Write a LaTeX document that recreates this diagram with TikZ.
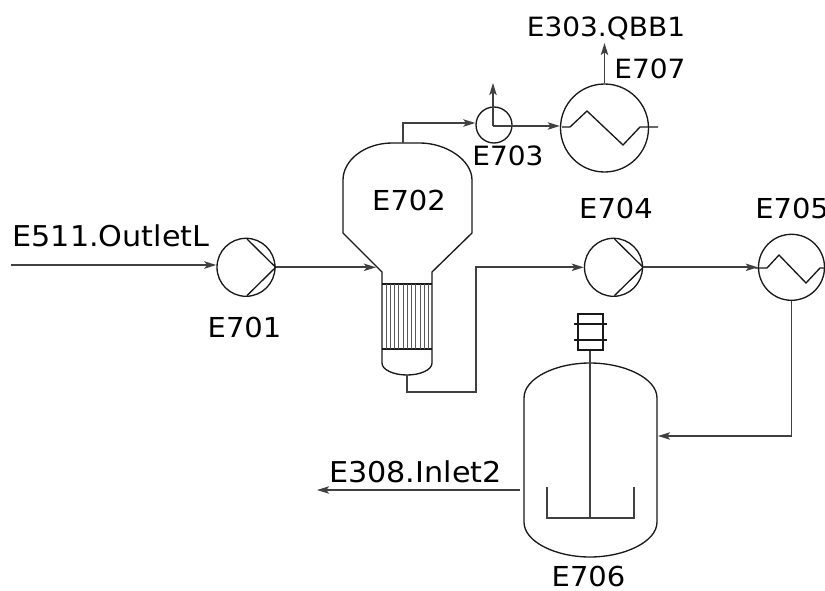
\documentclass[tikz,border=0pt]{standalone}
\usepackage{fontspec}
\setmainfont{DejaVu Sans}
\newfontfamily\widefont[FakeStretch=1.055]{DejaVu Sans}
\usetikzlibrary{arrows.meta}
\tikzset{
  x=0.75pt,y=-0.75pt,
  unit/.style={line width=1pt,draw=black!90,line join=miter},
  pipe/.style={line width=1.4pt,draw=black!75,line join=miter},
  flow/.style={pipe,-{Stealth[length=9pt,width=5.5pt,inset=2pt]}},
  ball/.style={circle,draw=black!90,line width=1pt,inner sep=0pt,fill=none},
  lab/.style={inner sep=0pt,font=\widefont\fontsize{20.6pt}{24pt}\selectfont},
  longlab/.style={inner sep=0pt,font=\widefont\fontsize{21.5pt}{24pt}\selectfont},
  smalllab/.style={inner sep=0pt,font=\widefont\fontsize{19.9pt}{22pt}\selectfont},
  tube/.style={line width=0.6pt,draw=black!65}
}
\begin{document}
\begin{tikzpicture}
\useasboundingbox (0,0) rectangle (825,590);
% ports
\coordinate (inL) at (11,265);
\coordinate (r2in) at (376,267.3);
\coordinate (r2top) at (403,143);
\coordinate (r2bot) at (407,375);
\coordinate (bend1) at (407,392);
\coordinate (bend2) at (476,392);
\coordinate (bend3) at (476,267.3);
\coordinate (bend4) at (403,123);
\coordinate (sepVap) at (493,83);
\coordinate (sepC) at (493,126);
\coordinate (outQ) at (604.5,43);
\coordinate (tankin) at (658,436);
\coordinate (bend5) at (791.5,436);
\coordinate (tankout) at (520,490);
\coordinate (outI) at (317,490);
% pumps and round units
\node[ball,minimum size=58pt*0.75] (p1) at (246,267.3) {};
\node[ball,minimum size=58pt*0.75] (p4) at (613.5,267.3) {};
\node[ball,minimum size=36pt*0.75] (s3) at (494,125) {};
\node[ball,minimum size=88pt*0.75] (h7) at (604.5,128) {};
\node[ball,minimum size=66pt*0.75] (h5) at (791.5,267.3) {};
% pump triangles
\draw[unit] (247,239) -- (p1.east) -- (247,295.6);
\draw[unit] (614.5,239) -- (p4.east) -- (614.5,295.6);
% heat exchanger zigzags
\draw[unit] (562,127) -- (570,127) -- (587,111) -- (623,145) -- (640,127) -- (658,127);
\draw[unit] (755,268) -- (767,268) -- (779,255) -- (806,283) -- (820,268) -- (826,268);
% reactor E702
\draw[unit] (382,349) -- (382,272) -- (343,233) -- (343,180)
  .. controls (343,160) and (365,143) .. (392,143) -- (420,143)
  .. controls (446,143) and (472,160) .. (472,180)
  -- (472,233) -- (432,272) -- (432,349) -- (432,363)
  .. controls (432,370) and (420,375) .. (407,375)
  .. controls (394,375) and (382,370) .. (382,363) -- (382,349);
\draw[unit] (382,284) -- (432,284) (382,349) -- (432,349);
\foreach \tx in {386,390,394,398,403,407,411,415,420,424,428}
  \draw[tube] (\tx,284) -- (\tx,349);
% tank E706
\draw[unit] (524,398) .. controls (524,378) and (556,363) .. (590,363)
  .. controls (624,363) and (657,378) .. (657,398)
  -- (657,522) .. controls (657,542) and (624,557) .. (590,557)
  .. controls (556,557) and (524,542) .. (524,522) -- cycle;
\draw[pipe] (590,350) -- (590,518);
\draw[pipe] (547,487) -- (547,518) -- (634,518) -- (634,487);
\draw[unit] (578,314) rectangle (603,350);
\draw[unit] (574,324) -- (607,324) (574,340) -- (607,340);
% connectors
\draw[flow] (inL) -- (inL -| p1.west);
\draw[flow] (p1.east) -- (r2in);
\draw[flow] (r2bot) -- (bend1) -- (bend2) -- (bend3) -- (p4.west);
\draw[flow] (p4.east) -- (h5.west);
\draw[pipe] (h5.south) -- (bend5);
\draw[flow] (bend5) -- (tankin);
\draw[flow] (tankout) -- (outI);
\draw[flow] (r2top) -- (bend4) -- (s3.west |- bend4);
\draw[flow] (sepC) -- (sepVap);
\draw[flow] (sepC) -- (h7.west |- sepC);
\draw[flow] (h7.north) -- (outQ);
% labels
\node[longlab] (l511) at (111,236) {E511.OutletL};
\node[lab] (l701) at (244.5,327) {E701};
\node[lab] (l702) at (409,200) {E702};
\node[smalllab] (l703) at (508,156) {E703};
\node[lab] (l704) at (616,208) {E704};
\node[lab,anchor=west] (l705) at (755,208) {E705};
\node[lab] (l706) at (588.5,576.5) {E706};
\node[smalllab] (l707) at (650,69) {E707};
\node[smalllab] (l303) at (606,28) {E303.QBB1};
\node[longlab] (l308) at (415.5,472) {E308.Inlet2};
\end{tikzpicture}
\end{document}
